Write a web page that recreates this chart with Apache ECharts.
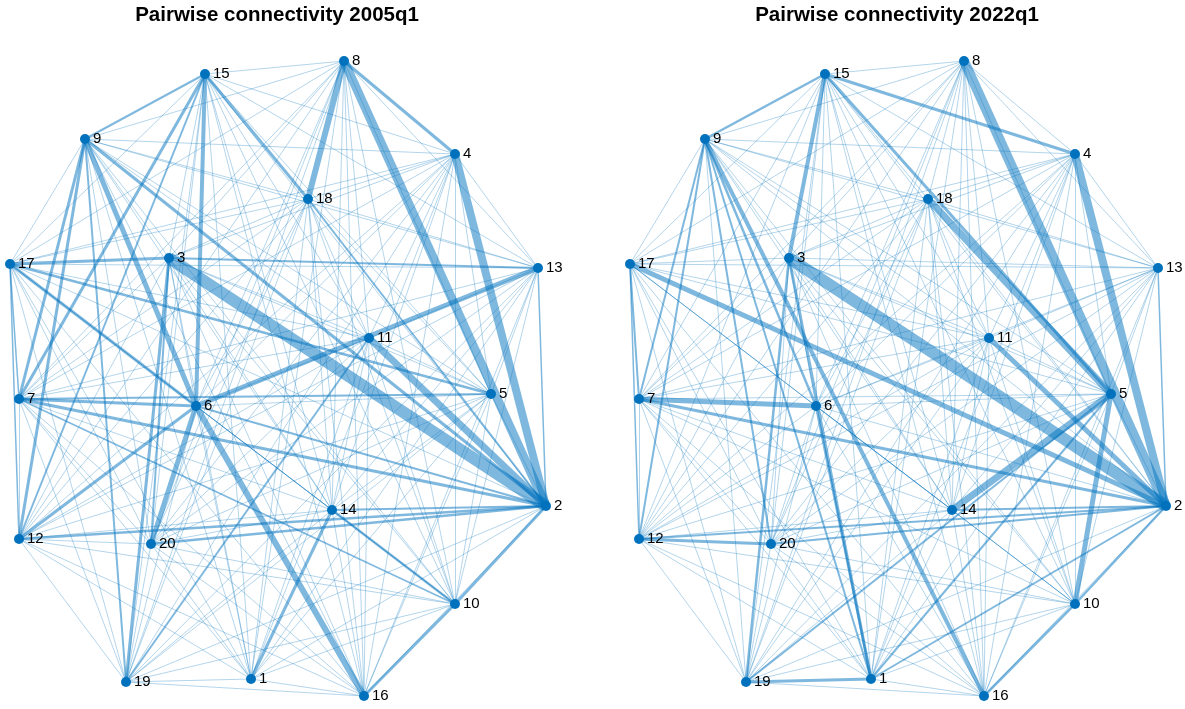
<!DOCTYPE html>
<html>
<head>
<meta charset="utf-8">
<script src="https://cdn.jsdelivr.net/npm/echarts@6/dist/echarts.min.js"></script>
<style>
html,body{margin:0;padding:0;background:#fff;}
#chart{width:1185px;height:709px;}
</style>
</head>
<body>
<div id="chart"></div>
<script>
// ---- data ----
const nodeNames = ['1','2','3','4','5','6','7','8','9','10','11','12','13','14','15','16','17','18','19','20'];
// layout coordinates of the nodes (shared by both panels)
const nodeX = [251,546,169,455,491,196,19,344,85,455,369,19,538,332,205,364,10,308,126,151];
const nodeY = [679,506,258,154,394,406,399,61,139,604,338,539,268,510,74,696,264,199,682,544];
const titles = ['Pairwise connectivity 2005q1','Pairwise connectivity 2022q1'];
// weak (background) connectivity weight of every other pair
const baseWeight2005 = 0.6;
const baseWeight2022 = 0.6;
// stronger pairwise links: [node, node, weight]
const strong2005 = [
  [3,2,12],[8,2,9],[4,2,8],[11,2,7],[8,18,6],[6,13,5],[9,6,5],[6,16,6],[6,20,5],[15,6,4],
  [8,4,3],[17,3,3],[17,6,3],[17,5,2.5],[9,7,3],[9,12,3],[9,2,3],[9,15,2],[9,19,2],
  [15,7,3],[15,18,3],[15,12,2],[3,13,2],[3,19,3],[7,6,3],[7,5,2],[7,2,3],[6,12,3],[6,2,2],
  [12,2,2.5],[20,2,2.5],[1,14,3],[14,10,2.5],[14,2,2],[10,2,3],[10,16,3],[18,2,2],
  [13,2,1.5],[17,12,1.5],[17,7,1.5],[11,19,2],[3,20,2],[7,10,1.5]
];
const strong2022 = [
  [3,2,12],[8,2,10],[4,2,8],[18,5,7],[11,2,5],[14,5,7],[5,10,5],[7,6,5],[17,2,5],
  [15,3,4],[9,16,4],[19,1,3],[12,20,3],[7,2,3],[15,4,3],[15,5,3],[9,15,2.5],[9,6,2.5],
  [9,20,2],[9,1,2],[12,2,2],[20,2,2],[14,2,2],[10,2,2.5],[10,16,2.5],[1,2,2],[3,1,3],
  [3,19,2.5],[9,7,2],[9,12,2],[17,7,2],[17,12,1.5],[6,1,2.5],[13,2,1.5],[5,19,2],[5,1,2]
];

// ---- build ----
function buildLinks(strong, base){
  const w = {};
  strong.forEach(([a,b,v])=>{ w[Math.min(a,b)+'-'+Math.max(a,b)] = v; });
  const links = [];
  for(let i=1;i<=nodeNames.length;i++){
    for(let j=i+1;j<=nodeNames.length;j++){
      const v = w[i+'-'+j] !== undefined ? w[i+'-'+j] : base;
      links.push({source:i-1,target:j-1,value:v,lineStyle:{width:v}});
    }
  }
  links.sort((p,q)=>p.value-q.value);
  return links;
}
const minX = Math.min(...nodeX), maxX = Math.max(...nodeX);
const minY = Math.min(...nodeY), maxY = Math.max(...nodeY);
const panelOffset = [0,620];
const font = 'Liberation Sans, Arial, Helvetica, sans-serif';
function makeSeries(k, strong, base){
  return {
    type:'graph', layout:'none', silent:true, roam:false,
    left: minX + panelOffset[k], top: minY, width: maxX-minX, height: maxY-minY,
    symbol:'circle', symbolSize:10,
    itemStyle:{color:'#0072BD'},
    label:{show:true, position:'right', distance:3, color:'#000', fontSize:15, fontFamily:font},
    lineStyle:{color:'#0072BD', opacity:0.5, curveness:0},
    data: nodeNames.map((n,i)=>({name:n, x:nodeX[i], y:nodeY[i]})),
    links: buildLinks(strong, base),
    z: 2
  };
}
const chart = echarts.init(document.getElementById('chart'), null, {renderer:'canvas'});
chart.setOption({
  animation:false,
  backgroundColor:'#fff',
  title:[
    {text:titles[0], left:272, top:0, textAlign:'center', textStyle:{fontSize:20.5, fontWeight:'bold', color:'#000', fontFamily:font}},
    {text:titles[1], left:892, top:0, textAlign:'center', textStyle:{fontSize:20.5, fontWeight:'bold', color:'#000', fontFamily:font}}
  ],
  series:[ makeSeries(0, strong2005, baseWeight2005), makeSeries(1, strong2022, baseWeight2022) ]
});
</script>
</body>
</html>
